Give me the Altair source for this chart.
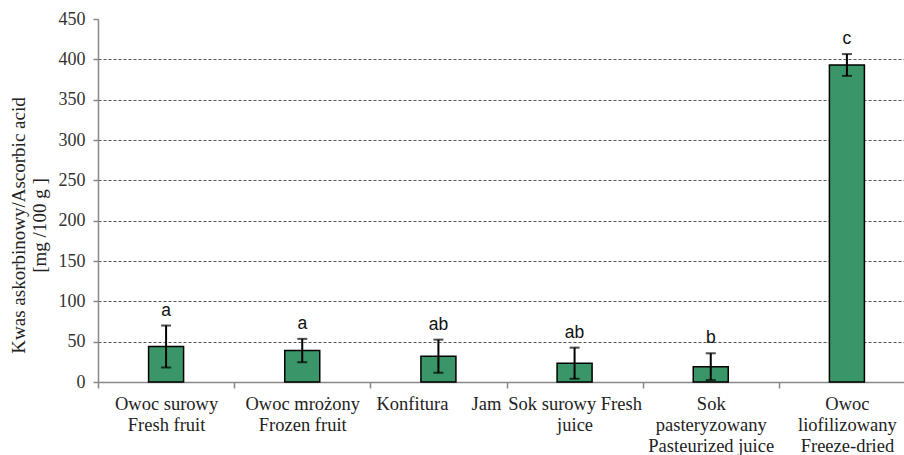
import altair as alt
import pandas as pd

# Category labels (one list of lines per bar)
category_lines = [
    ["Owoc surowy", "Fresh fruit"],
    ["Owoc mrożony", "Frozen fruit"],
    ["Konfitura\u00a0\u00a0\u00a0\u00a0\u00a0Jam"],
    ["Sok surowy Fresh", "juice"],
    ["Sok", "pasteryzowany", "Pasteurized juice"],
    ["Owoc", "liofilizowany", "Freeze-dried"],
]
means = [44, 39, 32, 23.3, 19, 393]
sds = [26, 14.5, 20.5, 19.3, 16.6, 13.5]
letters = ["a", "a", "ab", "ab", "b", "c"]
y_ticks = [0, 50, 100, 150, 200, 250, 300, 350, 400, 450]

cats = ["|".join(l) for l in category_lines]
df = pd.DataFrame({
    "cat": cats,
    "mean": means,
    "lo": [m - s for m, s in zip(means, sds)],
    "hi": [m + s for m, s in zip(means, sds)],
    "letter": letters,
})

SERIF = "Times New Roman, Liberation Serif, serif"

x = alt.X(
    "cat:N", sort=None,
    scale=alt.Scale(range=[0, 817], paddingInner=0, paddingOuter=0),
    axis=alt.Axis(
        title=None, labelAngle=0, labelExpr="split(datum.label, '|')",
        labelFont=SERIF, labelFontSize=18.5, labelLineHeight=21, labelColor="#222",
        labelPadding=6, labelLimit=0, labelOverlap=False,
        tickBand="extent", tickSize=6, tickColor="#888", tickWidth=1.5,
        domainColor="#888", domainWidth=1.5,
    ),
)

y_scale = alt.Scale(domain=[0, 450], nice=False)
y_axis = alt.Axis(
    values=y_ticks,
    title=["Kwas askorbinowy/Ascorbic acid", "[mg /100 g ]"],
    titleFont=SERIF, titleFontSize=19, titleFontWeight="normal", titleColor="#222",
    titleAngle=-90, titleX=-89, titleY=206, titleAlign="center", titleBaseline="top",
    titleLineHeight=21,
    labelFont=SERIF, labelFontSize=18, labelColor="#333", labelPadding=8,
    tickSize=5, tickColor="#888", tickWidth=1.5,
    domainColor="#888", domainWidth=1.5,
    grid=True, gridDash=[3, 2], gridColor="#555", gridWidth=1,
    gridOpacity={"condition": {"test": "datum.value === 0 || datum.value === 450", "value": 0}, "value": 1},
)

base = alt.Chart(df)

bars = base.mark_bar(size=35, color="#3A9668", stroke="black", strokeWidth=1.5).encode(
    x=x, y=alt.Y("mean:Q", scale=y_scale, axis=y_axis)
)
rule = base.mark_rule(color="black", strokeWidth=2).encode(
    x=alt.X("cat:N", sort=None), y="lo:Q", y2="hi:Q"
)
cap_hi = base.mark_tick(size=10, thickness=2, color="black").encode(
    x=alt.X("cat:N", sort=None), y="hi:Q"
)
cap_lo = base.mark_tick(size=10, thickness=2, color="black").encode(
    x=alt.X("cat:N", sort=None), y="lo:Q"
)
text = base.mark_text(
    baseline="bottom", dy=-6, font="Liberation Sans", fontSize=17.5, color="#111"
).encode(x=alt.X("cat:N", sort=None), y="hi:Q", text="letter:N")

chart = (
    alt.layer(bars, rule, cap_hi, cap_lo, text)
    .properties(
        width=806, height=363,
        autosize=alt.AutoSizeParams(type="none"),
        padding={"left": 98, "top": 19, "right": 0, "bottom": 73},
    )
    .configure_view(stroke=None)
)

chart.save("out.html", embed_options={"renderer": "svg", "actions": False})
